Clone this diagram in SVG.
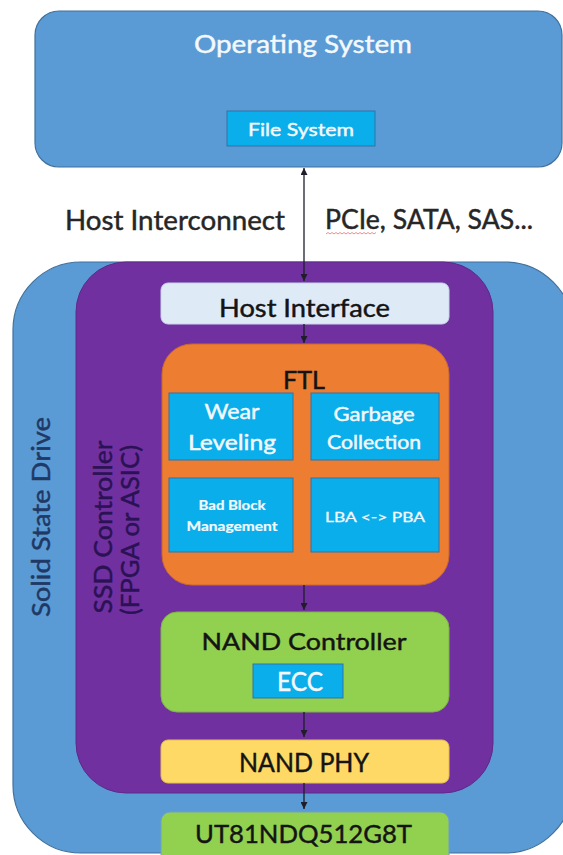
<svg xmlns="http://www.w3.org/2000/svg" width="563" height="855" viewBox="0 0 563 855">
  <style>
    text { font-family: Lato, "Open Sans", "Liberation Sans", sans-serif; stroke-width: 0.45; }
    .dark { fill: #141414; stroke: #141414; }
    .white { fill: #F4F8FC; stroke: #F4F8FC; }
    .mid { text-anchor: middle; }
    .cell { fill: #0AAEEA; stroke: #3471A6; stroke-width: 1; }
    .conn { stroke: #1E1E2A; stroke-width: 1.3; fill: none; }
  </style>
  <defs>
    <marker id="ah" viewBox="0 0 10 10" refX="10" refY="5" markerWidth="7" markerHeight="7" markerUnits="userSpaceOnUse" orient="auto-start-reverse">
      <path d="M0,0 L10,5 L0,10 z" fill="#1E1E2A"/>
    </marker>
  </defs>
  <rect width="563" height="855" fill="#FFFFFF"/>

  <g id="operating-system">
    <rect x="35" y="11" width="527" height="156" rx="24" fill="#5B9BD5" stroke="#41719C" stroke-width="1.2"/>
    <text class="white mid" x="303" y="53" font-size="25.5" textLength="218" lengthAdjust="spacingAndGlyphs">Operating System</text>
  </g>
  <g id="file-system">
    <rect x="227" y="111" width="148" height="35" fill="#0AAEEA" stroke="#3471A6" stroke-width="1"/>
    <text class="white mid" x="301" y="136" font-size="18" textLength="106" lengthAdjust="spacingAndGlyphs">File System</text>
  </g>

  <g id="host-interconnect-label">
    <text fill="#262626" stroke="#262626" x="65" y="230" font-size="27" textLength="220" lengthAdjust="spacingAndGlyphs">Host Interconnect</text>
    <text fill="#262626" stroke="#262626" x="325" y="229" font-size="26" textLength="208" lengthAdjust="spacingAndGlyphs">PCIe, SATA, SAS...</text>
    <path d="M326,234 l2,-1.5 l2,1.5 l2,-1.5 l2,1.5 l2,-1.5 l2,1.5 l2,-1.5 l2,1.5 l2,-1.5 l2,1.5 l2,-1.5 l2,1.5 l2,-1.5 l2,1.5 l2,-1.5 l2,1.5 l2,-1.5 l2,1.5 l2,-1.5 l2,1.5 l2,-1.5 l2,1.5 l2,-1.5 l2,1.5 l2,-1.5" fill="none" stroke="#E04848" stroke-width="0.8" opacity="0.8"/>
  </g>

  <g id="solid-state-drive">
    <rect x="13" y="262" width="560" height="591" rx="68" fill="#5B9BD5" stroke="#41719C" stroke-width="1.2"/>
    <text fill="#1F3864" stroke="#1F3864" class="mid" transform="translate(50,517) rotate(-90)" font-size="25" textLength="200" lengthAdjust="spacingAndGlyphs">Solid State Drive</text>
  </g>

  <g id="ssd-controller">
    <rect x="76" y="262" width="417" height="531" rx="50" fill="#7030A0" stroke="#5E2A88" stroke-width="1"/>
    <text fill="#2A1254" stroke="#2A1254" class="mid" transform="translate(112,527) rotate(-90)" font-size="25" textLength="173" lengthAdjust="spacingAndGlyphs">SSD Controller</text>
    <text fill="#2A1254" stroke="#2A1254" class="mid" transform="translate(139,530) rotate(-90)" font-size="25" textLength="170" lengthAdjust="spacingAndGlyphs">(FPGA or ASIC)</text>
  </g>

  <g id="host-interface">
    <rect x="161" y="283" width="288" height="41" rx="7" fill="#DEEBF7" stroke="#C5D6EA" stroke-width="1"/>
    <text class="dark mid" x="304.5" y="317" font-size="24.5" textLength="171" lengthAdjust="spacingAndGlyphs">Host Interface</text>
  </g>

  <g id="ftl">
    <rect x="162" y="344" width="287" height="241" rx="30" fill="#ED7D31" stroke="#C9692A" stroke-width="1"/>
    <text class="dark mid" x="304" y="389" font-size="24.5" textLength="42" lengthAdjust="spacingAndGlyphs">FTL</text>
  </g>
  <g id="wear-leveling">
    <rect class="cell" x="169" y="393" width="124" height="67"/>
    <text class="white mid" x="232" y="419" font-size="21" textLength="55" lengthAdjust="spacingAndGlyphs">Wear</text>
    <text class="white mid" x="232" y="450" font-size="21" textLength="88" lengthAdjust="spacingAndGlyphs">Leveling</text>
  </g>
  <g id="garbage-collection">
    <rect class="cell" x="311" y="393" width="128" height="67"/>
    <text class="white mid" x="374" y="421" font-size="18.5" textLength="81" lengthAdjust="spacingAndGlyphs">Garbage</text>
    <text class="white mid" x="374" y="449" font-size="18.5" textLength="94" lengthAdjust="spacingAndGlyphs">Collection</text>
  </g>
  <g id="bad-block-management">
    <rect class="cell" x="169" y="478" width="124" height="74"/>
    <text class="white mid" x="232" y="510" font-size="13" font-weight="bold" textLength="67" lengthAdjust="spacingAndGlyphs" style="stroke-width:0.2">Bad Block</text>
    <text class="white mid" x="232" y="531" font-size="13" font-weight="bold" textLength="91" lengthAdjust="spacingAndGlyphs" style="stroke-width:0.2">Management</text>
  </g>
  <g id="lba-pba">
    <rect class="cell" x="311" y="478" width="128" height="74"/>
    <text class="white mid" x="375" y="522" font-size="13.5" textLength="100" lengthAdjust="spacingAndGlyphs" style="stroke-width:0.3">LBA &lt;-&gt; PBA</text>
  </g>

  <g id="nand-controller">
    <rect x="161" y="612" width="288" height="100" rx="16" fill="#92D050" stroke="#7DB543" stroke-width="1"/>
    <text class="dark mid" x="304" y="650" font-size="24" textLength="205" lengthAdjust="spacingAndGlyphs">NAND Controller</text>
  </g>
  <g id="ecc">
    <rect class="cell" x="253" y="664" width="90" height="34"/>
    <text class="white mid" x="300" y="691" font-size="26.5" textLength="46" lengthAdjust="spacingAndGlyphs">ECC</text>
  </g>

  <g id="nand-phy">
    <rect x="161" y="740" width="288" height="43" rx="7" fill="#FFD966" stroke="#E3BF55" stroke-width="1"/>
    <text class="dark mid" x="304" y="772" font-size="26.5" textLength="130" lengthAdjust="spacingAndGlyphs">NAND PHY</text>
  </g>

  <g id="ut81ndq512g8t">
    <rect x="161" y="812" width="288" height="60" rx="9" fill="#92D050" stroke="#6FA0C0" stroke-width="1"/>
    <text class="dark mid" x="303.5" y="843" font-size="25.5" textLength="217" lengthAdjust="spacingAndGlyphs">UT81NDQ512G8T</text>
  </g>

  <g id="connectors">
    <line class="conn" x1="304" y1="168" x2="304" y2="281" marker-start="url(#ah)" marker-end="url(#ah)"/>
    <line class="conn" x1="304" y1="324" x2="304" y2="343" marker-end="url(#ah)"/>
    <line class="conn" x1="304" y1="585" x2="304" y2="610" marker-end="url(#ah)"/>
    <line class="conn" x1="304" y1="712" x2="304" y2="737" marker-end="url(#ah)"/>
    <line class="conn" x1="304" y1="783" x2="304" y2="809" marker-end="url(#ah)"/>
  </g>
</svg>
